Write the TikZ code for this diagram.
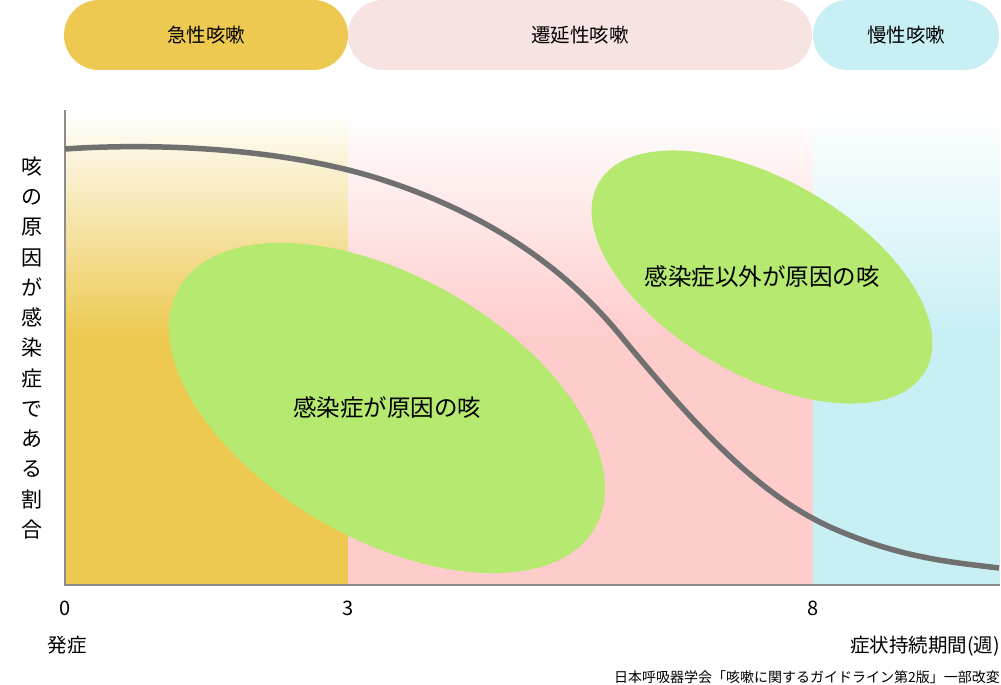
\documentclass[tikz,border=0pt]{standalone}
\usepackage{fontspec}
\setmainfont{Noto Sans CJK JP}
\usepackage{tikz}
\usetikzlibrary{positioning,shapes.geometric}
\definecolor{acute}{HTML}{EDC951}
\definecolor{subacutepill}{HTML}{F8E3E3}
\definecolor{subacute}{HTML}{FFCCCC}
\definecolor{chronic}{HTML}{C7EFF4}
\definecolor{cause}{HTML}{B5E970}
\definecolor{ratio}{HTML}{707070}
\definecolor{axisgray}{HTML}{8C8C8C}

\begin{document}
\begin{tikzpicture}[x=1pt,y=-1pt,
  every node/.style={font=\fontsize{19.5}{22}\selectfont,inner sep=0pt},
  pill/.style={rounded corners=35pt,minimum height=70pt},
  causeblob/.style={ellipse,fill=cause,rotate=-30},
  causetext/.style={font=\fontsize{23.5}{26}\selectfont},
  tick/.style={font=\fontsize{20}{22}\selectfont},
  ratioline/.style={ratio,line width=5.5pt}
]
  \useasboundingbox (0,0) rectangle (1001,685);

  \shade[top color=white,bottom color=acute] (65,110) rectangle (348,336);
  \fill[acute] (65,335) rectangle (348,585);
  \shade[top color=white,bottom color=subacute] (348,110) rectangle (813,336);
  \fill[subacute] (348,335) rectangle (813,585);
  \shade[top color=white,bottom color=chronic] (813,110) rectangle (1000,336);
  \fill[chronic] (813,335) rectangle (1000,585);

  \node[pill,fill=acute,minimum width=284pt] (acute) at (206,35) {急性咳嗽};
  \node[pill,fill=subacutepill,minimum width=464pt] (subacute) at (580,35) {遷延性咳嗽};
  \node[pill,fill=chronic,minimum width=186pt] (chronic) at (906,35) {慢性咳嗽};

  \coordinate (ytop) at (65,110);
  \coordinate (origin) at (65,585);
  \coordinate (xend) at (1000,585);
  \draw[axisgray,line width=1.5pt] (ytop) -- (origin) -- (xend);

  \node[causeblob,minimum width=480pt,minimum height=262pt] (infect) at (387,408) {};
  \node[causetext] (infecttext) at (infect.center) {感染症が原因の咳};
  \node[causeblob,minimum width=377pt,minimum height=195pt] (other) at (762,277) {};
  \node[causetext] (othertext) at (other.center) {感染症以外が原因の咳};

  \draw[ratioline] (65,149) .. controls (150,143) and (280,147) .. (380,179)
    .. controls (480,211) and (560,262) .. (620,335)
    .. controls (700,432) and (760,495) .. (830,527)
    .. controls (900,558) and (950,562) .. (999,568);

  \node[align=center,font=\fontsize{21}{30.25}\selectfont] (ylabel) at (32,348) {咳\\の\\原\\因\\が\\感\\染\\症\\で\\あ\\る\\割\\合};

  \node[tick] (w0) at (65,608) {0};
  \node[tick] (w3) at (348,608) {3};
  \node[tick] (w8) at (813,608) {8};
  \node (onset) at (67,645) {発症};
  \node[anchor=east] (duration) at (1000,646) {症状持続期間(週)};
  \node[anchor=east,font=\fontsize{14}{16}\selectfont] (source) at (1000,677) {日本呼吸器学会「咳嗽に関するガイドライン第2版」一部改変};
\end{tikzpicture}
\end{document}
